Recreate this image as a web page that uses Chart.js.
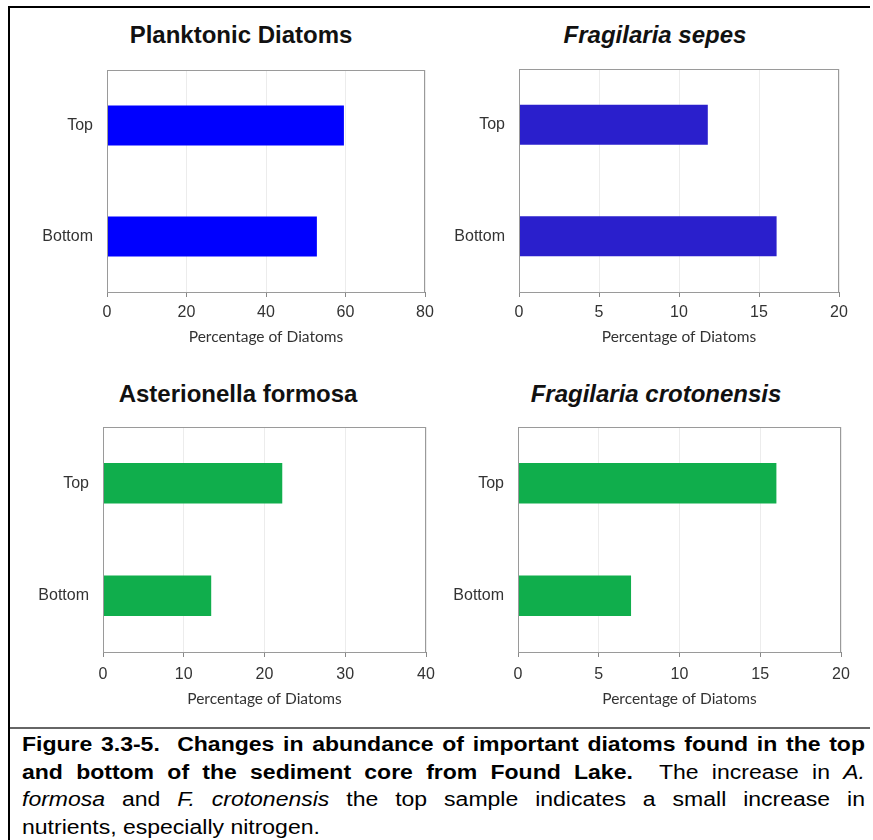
<!DOCTYPE html>
<html>
<head>
<meta charset="utf-8">
<script src="https://cdn.jsdelivr.net/npm/chart.js@4.4.0/dist/chart.umd.min.js"></script>
<style>
  body { margin: 0; background: #fff; width: 873px; height: 840px; position: relative; overflow: hidden; }
  canvas { position: absolute; }
  .line { position: absolute; background: #000; }
  .ttl { position: absolute; width: 400px; text-align: center; font-family: "Liberation Sans", Arial, sans-serif;
    font-size: 24px; font-weight: bold; line-height: 28px; color: #111; white-space: nowrap; }
  #caption { position: absolute; left: 22px; top: 731px; width: 733px;
    transform: scaleX(1.15); transform-origin: 0 0;
    font-family: "Liberation Sans", Arial, sans-serif; font-size: 20px; line-height: 27.5px; color: #000; }
  #caption div { text-align: justify; text-align-last: justify; white-space: nowrap; }
  #caption div.last { text-align-last: left; }
</style>
</head>
<body>
<div class="line" style="left:8px;top:6px;width:2px;height:834px"></div>
<div class="line" style="left:8px;top:6px;width:862px;height:2px"></div>
<div class="line" style="left:10px;top:727px;width:860px;height:2px;background:#666"></div>

<div class="ttl" style="left:41px;top:21px">Planktonic Diatoms</div>
<div class="ttl" style="left:455px;top:21px;font-style:italic">Fragilaria sepes</div>
<div class="ttl" style="left:38px;top:380px">Asterionella formosa</div>
<div class="ttl" style="left:456px;top:380px;font-style:italic">Fragilaria crotonensis</div>

<canvas id="c1" width="435" height="340" style="left:10px;top:10px"></canvas>
<canvas id="c2" width="425" height="340" style="left:445px;top:10px"></canvas>
<canvas id="c3" width="436" height="347" style="left:10px;top:365px"></canvas>
<canvas id="c4" width="425" height="347" style="left:445px;top:365px"></canvas>

<div id="caption">
  <div><b>Figure 3.3-5.&nbsp; Changes in abundance of important diatoms found in the top</b></div>
  <div><b>and bottom of the sediment core from Found Lake.</b>&nbsp; The increase in <i>A.</i></div>
  <div><i>formosa</i> and <i>F. crotonensis</i> the top sample indicates a small increase in</div>
  <div class="last">nutrients, especially nitrogen.</div>
</div>

<script>
// data
const categories = ['Top', 'Bottom'];
const planktonic = [59.6, 52.8];
const sepes = [11.8, 16.1];
const asterionella = [22.2, 13.4];
const crotonensis = [16.0, 7.0];
const xTitle = 'Percentage of Diatoms';

// grey frame round the plot area
const frameBox = {
  id: 'frameBox',
  afterDraw(chart) {
    const a = chart.chartArea, c = chart.ctx;
    c.save();
    c.strokeStyle = '#9a9a9a';
    c.lineWidth = 1;
    c.strokeRect(a.left + 0.5, a.top + 0.5, a.right - a.left - 1, a.bottom - a.top);
    c.restore();
  }
};

function makeChart(id, values, color, max, step, o) {
  return new Chart(document.getElementById(id), {
    type: 'bar',
    data: {
      labels: categories,
      datasets: [{
        data: values,
        backgroundColor: color,
        borderWidth: 0,
        categoryPercentage: 1,
        barPercentage: 0.36
      }]
    },
    options: {
      indexAxis: 'y',
      responsive: false,
      animation: false,
      layout: { padding: { left: 0, right: o.padR, top: o.padT, bottom: 0 } },
      plugins: {
        legend: { display: false },
        tooltip: { enabled: false },
        title: { display: false }
      },
      scales: {
        x: {
          min: 0, max: max,
          afterFit: s => { s.height = o.xH; },
          ticks: { stepSize: step, color: '#333', padding: o.tp, font: { family: 'Liberation Sans', size: 16 } },
          grid: { color: '#ececec', tickColor: '#888', tickLength: 5 },
          border: { color: '#888' },
          title: { display: true, text: xTitle, color: '#333', font: { family: 'Lato', size: 15.5 }, padding: { top: 4, bottom: 4 } }
        },
        y: {
          afterFit: s => { s.width = o.yW; },
          ticks: { color: '#333', padding: 14, font: { family: 'Liberation Sans', size: 16 } },
          grid: { display: false, drawTicks: false },
          border: { color: '#888' }
        }
      }
    },
    plugins: [frameBox]
  });
}

makeChart('c1', planktonic, '#0000ff', 80, 20, { padT: 60, padR: 20, yW: 97, xH: 58, tp: 6 });
makeChart('c2', sepes, '#2a1fcc', 20, 5, { padT: 59, padR: 31, yW: 74, xH: 58, tp: 6 });
makeChart('c3', asterionella, '#10ae4c', 40, 10, { padT: 62, padR: 20, yW: 93, xH: 60, tp: 8 });
makeChart('c4', crotonensis, '#10ae4c', 20, 5, { padT: 62, padR: 29, yW: 73, xH: 60, tp: 8 });
</script>
</body>
</html>
